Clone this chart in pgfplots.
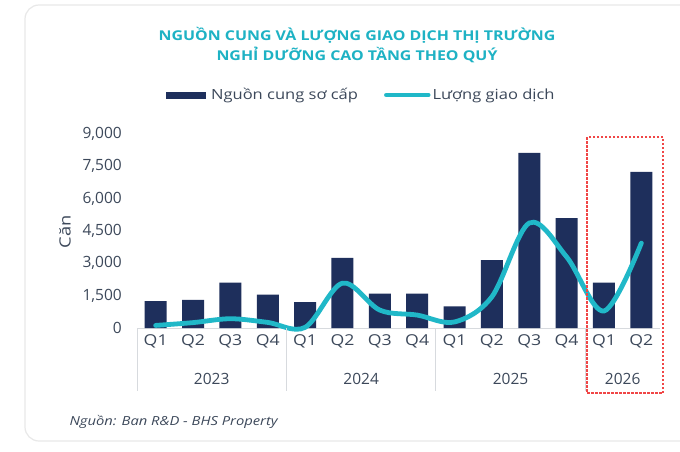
\documentclass[border=0pt]{standalone}
\usepackage{pgfplots}
\pgfplotsset{compat=1.18}
\usepackage{fontspec}
\setmainfont{Open Sans}
\newfontfamily\wide{Open Sans}[FakeStretch=1.18]
\definecolor{navyc}{RGB}{30,47,92}
\definecolor{tealc}{RGB}{32,184,200}
\definecolor{titlec}{RGB}{30,178,196}
\definecolor{labc}{RGB}{60,72,90}
\definecolor{sepc}{RGB}{215,218,222}
\definecolor{redc}{RGB}{240,70,70}
\begin{document}
\begin{tikzpicture}
\useasboundingbox (0,0) rectangle (680pt,451pt);
\fill[white] (0,0) rectangle (680pt,451pt);
\draw[gray!18, line width=1.2pt, rounded corners=14pt] (25pt,10pt) rectangle (700pt,446pt);
\begin{axis}[
  at={(137pt,123pt)}, anchor=south west,
  scale only axis, width=523pt, height=194pt,
  xmin=-0.5, xmax=13.5, ymin=0, ymax=9000,
  axis y line=none, axis x line*=bottom,
  x axis line style={sepc, line width=1pt, -},
  xtick={0,...,13}, xticklabels={Q1,Q2,Q3,Q4,Q1,Q2,Q3,Q4,Q1,Q2,Q3,Q4,Q1,Q2},
  xtick style={draw=none},
  xticklabel style={font=\wide\fontsize{15}{17}\selectfont, text=labc, yshift=-3pt},
  ytick={0,1500,3000,4500,6000,7500,9000},
  clip=false,
  legend style={at={(0.429,1.201)}, anchor=center, draw=none, fill=none,
    font=\wide\fontsize{14}{16}\selectfont, text=labc, legend columns=2,
    /tikz/every even column/.append style={column sep=24pt}},
]
\addplot[ybar, bar width=22pt, fill=navyc, draw=none,
  legend image code/.code={\fill[navyc] (0pt,-3.5pt) rectangle (40pt,3.5pt); \path (43pt,0pt);}]
  coordinates {(0,1250) (1,1300) (2,2100) (3,1550) (4,1200) (5,3250) (6,1600) (7,1600)
               (8,1000) (9,3150) (10,8120) (11,5100) (12,2100) (13,7240)};
\addlegendentry{Nguồn cung sơ cấp}
\addplot[tealc, line width=4.8pt, smooth, tension=0.55, line cap=round,
  legend image code/.code={\draw[tealc, line width=4.5pt, line cap=round] (2pt,0pt) -- (44pt,0pt);}]
  coordinates {(0,120) (1,250) (2,430) (3,260) (4,30) (5,2080) (6,830) (7,600)
               (8,280) (9,1450) (10,4870) (11,3300) (12,790) (13,3940)};
\addlegendentry{Lượng giao dịch}
\end{axis}
% y tick labels
\foreach \v/\t in {0/0,1500/{1,500},3000/{3,000},4500/{4,500},6000/{6,000},7500/{7,500},9000/{9,000}}{
  \node[anchor=east, text=labc, font=\fontsize{15.5}{17}\selectfont, inner sep=0pt] at (122pt,{(123+\v/9000*194)*1pt}) {\t};
}
\node[rotate=90, text=labc, font=\wide\fontsize{15.5}{17}\selectfont] at (65pt,219pt) {Căn};
% group separators
\foreach \x in {137,286.4,435.9,585.3}{
  \draw[sepc, line width=1pt] (\x pt,123pt) -- (\x pt,60pt);
}
% year labels
\foreach \x/\y in {1.5/2023,5.5/2024,9.5/2025,12.5/2026}{
  \node[text=labc, font=\fontsize{15.5}{17}\selectfont] at ({(137+(\x+0.5)*523/14)*1pt},72pt) {\y};
}
% red dashed box
\draw[redc, line width=1.1pt, dash pattern=on 2.5pt off 1.5pt] (587pt,314pt) rectangle (663pt,58pt);
% title
\node[text=titlec, font=\wide\bfseries\fontsize{13.5}{20}\selectfont, align=center] at (357pt,406pt)
  {NGUỒN CUNG VÀ LƯỢNG GIAO DỊCH THỊ TRƯỜNG\\NGHỈ DƯỠNG CAO TẦNG THEO QUÝ};
% source
\node[anchor=west, text=labc, font=\wide\itshape\fontsize{12.5}{14}\selectfont] at (66pt,29pt)
  {Nguồn: Ban R\&D - BHS Property};
\end{tikzpicture}
\end{document}
